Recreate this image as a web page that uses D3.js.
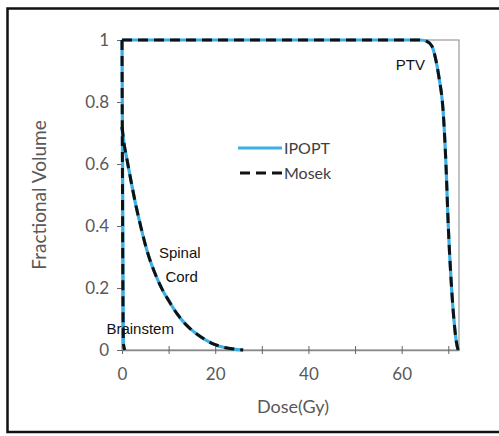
<!DOCTYPE html>
<html><head><meta charset="utf-8">
<script src="https://cdn.jsdelivr.net/npm/d3@7"></script>
<style>body{margin:0;background:#fff}</style>
</head><body>
<svg id="c" width="499" height="436"></svg>
<script>
const xTicks = [0,10,20,30,40,50,60,70];
const xTickLabels = [0,20,40,60];
const yTicks = [0,0.2,0.4,0.6,0.8,1];
const seriesNames = ["IPOPT","Mosek"];
const ptvDose = [0,60,64,65.5,66.5,67.2,68,68.9,69.5,70,70.6,71.2,71.7,72.1];
const ptvVol  = [1,1,1,0.995,0.98,0.945,0.88,0.77,0.6,0.4,0.226,0.1,0.03,0];
const cordDose = [0,0.5,1,2,3,4,5,6,7,8,9,10,11,12,13,14,15,16,18,20,22,24,26];
const cordVol  = [0.72,0.66,0.62,0.54,0.465,0.40,0.34,0.29,0.25,0.215,0.185,0.16,0.135,0.113,0.094,0.078,0.064,0.052,0.032,0.017,0.008,0.003,0];
const stemDose = [0,0.3,0.6];
const stemVol  = [1,0.02,0];
const labels = [{t:"PTV",x:65,y:0.903,a:"end"},{t:"Spinal",x:12.4,y:0.297,a:"middle"},{t:"Cord",x:12.8,y:0.219,a:"middle"},{t:"Brainstem",x:3.9,y:0.052,a:"middle"}];

const svg = d3.select("#c");
svg.append("rect").attr("x",7.5).attr("y",8.5).attr("width",520).attr("height",423.5)
  .attr("fill","none").attr("stroke","#111").attr("stroke-width",2.5);

const x = d3.scaleLinear().domain([0,72.3]).range([122,459]);
const y = d3.scaleLinear().domain([0,1]).range([350,40]);
const font = "Lato, 'Open Sans', sans-serif";

svg.append("rect").attr("x",122).attr("y",40).attr("width",337).attr("height",310)
  .attr("fill","none").attr("stroke","#9a9a9a").attr("stroke-width",1.2);

const gx = svg.append("g").attr("transform","translate(0,350)")
  .call(d3.axisBottom(x).tickValues(xTicks).tickSize(5).tickSizeOuter(0)
    .tickFormat(d=> xTickLabels.includes(d)? d : ""));
gx.select(".domain").attr("stroke","#8a8a8a").attr("stroke-width",1.3);
gx.selectAll(".tick line").attr("stroke","#666").attr("y1",-4).attr("y2",4);
gx.selectAll(".tick text").attr("y",18).attr("fill","#595959")
  .style("font-family",font).style("font-size","17px");

const gy = svg.append("g").attr("transform","translate(122,0)")
  .call(d3.axisLeft(y).tickValues(yTicks).tickSize(5).tickSizeOuter(0).tickFormat(d=>d3.format("")(d)));
gy.select(".domain").attr("stroke","#8a8a8a").attr("stroke-width",1.3);
gy.selectAll(".tick line").attr("stroke","#666");
gy.selectAll(".tick text").attr("x",-13).attr("fill","#595959")
  .style("font-family",font).style("font-size","17px");

svg.append("text").attr("x",293).attr("y",413).attr("text-anchor","middle")
  .attr("fill","#595959").style("font-family",font).style("font-size","18px").text("Dose(Gy)");
svg.append("text").attr("transform","translate(46,195) rotate(-90)").attr("text-anchor","middle")
  .attr("fill","#595959").style("font-family",font).style("font-size","19px").text("Fractional Volume");

const line = d3.line().x(d=>x(d[0])).y(d=>y(d[1])).curve(d3.curveMonotoneX);
const curves = [
  d3.zip(ptvDose, ptvVol),
  d3.zip(cordDose, cordVol),
  d3.zip(stemDose, stemVol)
];
const gl = svg.append("g");
curves.forEach(c=>{
  gl.append("path").attr("d",line(c)).attr("fill","none")
    .attr("stroke","#3bb0e6").attr("stroke-width",3.2);
});
curves.forEach(c=>{
  gl.append("path").attr("d",line(c)).attr("fill","none")
    .attr("stroke","#111").attr("stroke-width",3).attr("stroke-dasharray","10,6");
});

const lg = svg.append("g");
lg.append("line").attr("x1",238).attr("x2",282).attr("y1",148).attr("y2",148)
  .attr("stroke","#3bb0e6").attr("stroke-width",3.2);
lg.append("line").attr("x1",238).attr("x2",282).attr("y1",173).attr("y2",173)
  .attr("stroke","#111").attr("stroke-width",3).attr("stroke-dasharray","10,6").attr("stroke-dashoffset",-2);
seriesNames.forEach((n,i)=>{
  lg.append("text").attr("x",284).attr("y",154+i*25).attr("fill","#404040")
    .style("font-family",font).style("font-size","16px").text(n);
});

labels.forEach(l=>{
  svg.append("text").attr("x",x(l.x)).attr("y",y(l.y)).attr("text-anchor",l.a)
    .attr("fill","#111").style("font-family","'Liberation Sans', Arial, sans-serif").style("font-size","15px").text(l.t);
});
</script>
</body></html>
